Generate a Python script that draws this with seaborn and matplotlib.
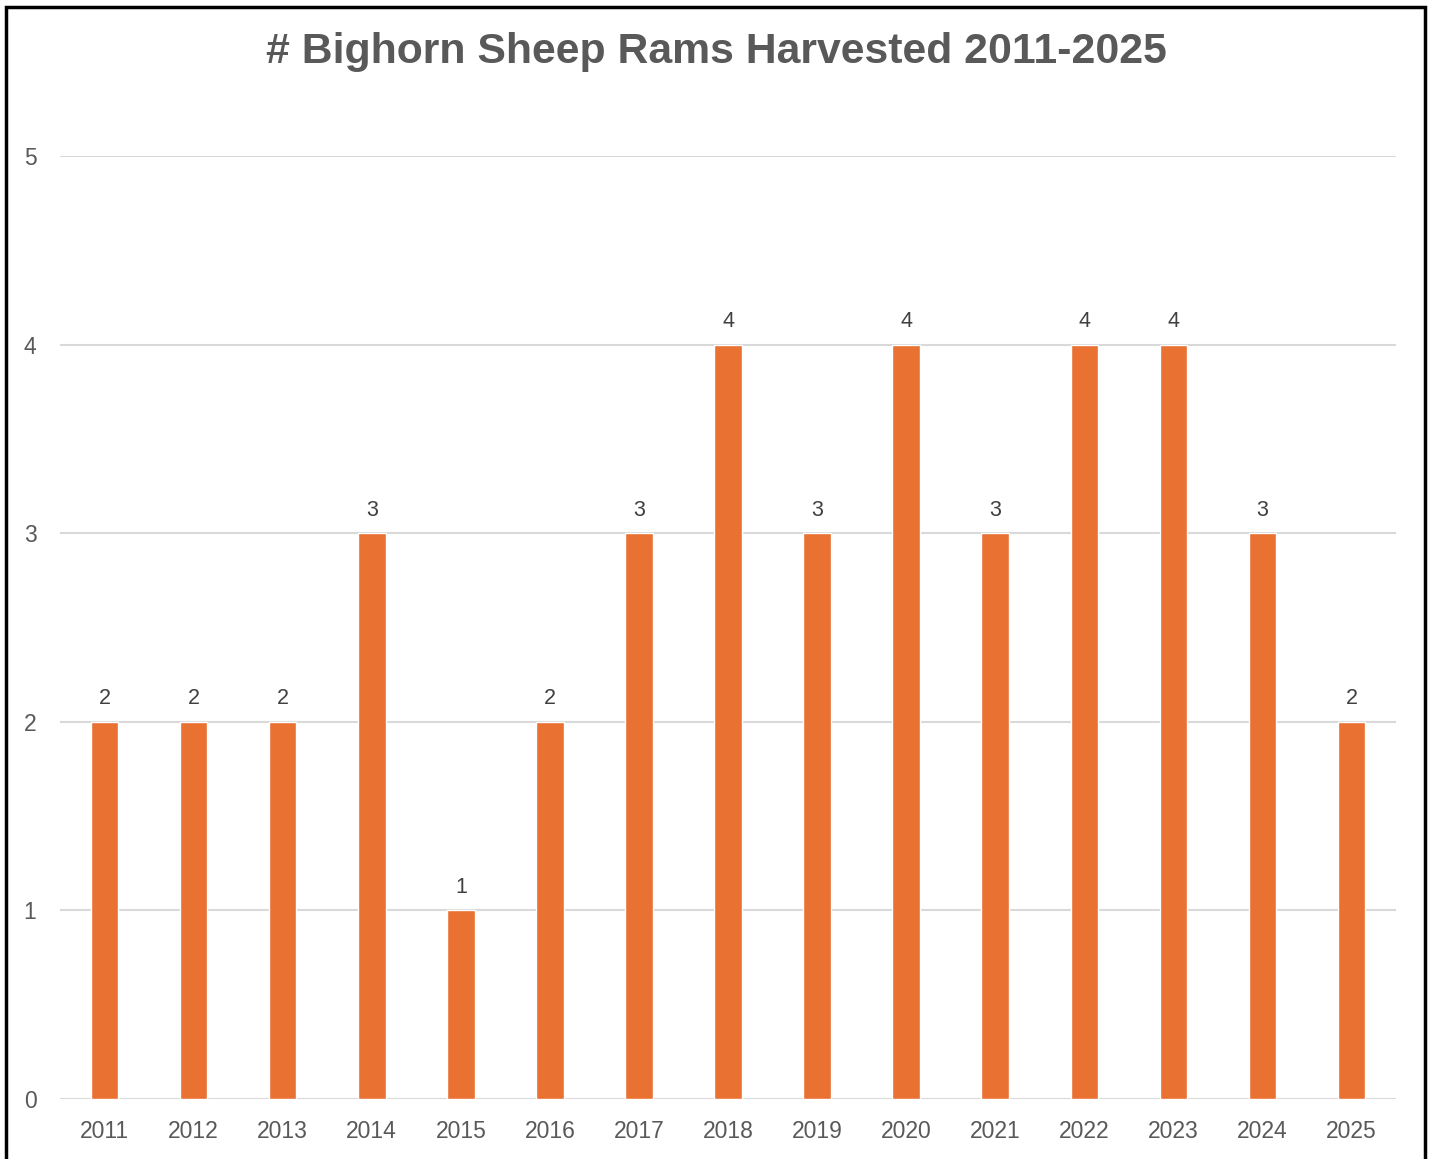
import pandas as pd
import seaborn as sns
import matplotlib.pyplot as plt
from matplotlib.patches import Rectangle

# Data
years = ['2011', '2012', '2013', '2014', '2015', '2016', '2017', '2018',
         '2019', '2020', '2021', '2022', '2023', '2024', '2025']
rams = [2, 2, 2, 3, 1, 2, 3, 4, 3, 4, 3, 4, 4, 3, 2]
df = pd.DataFrame({'year': years, 'rams': rams})

sns.set_style('white')
plt.rcParams['font.family'] = ['Liberation Sans', 'DejaVu Sans']

fig = plt.figure(figsize=(14.32, 11.59), dpi=100)
ax = fig.add_axes([0.0419, 0.0518, 0.9330, 0.8136])

sns.barplot(data=df, x='year', y='rams', color='#E97132', width=0.31,
            saturation=1, ax=ax, zorder=3)

ax.set_ylim(0, 5)
ax.set_xlim(-0.5, len(years) - 0.5)
ax.set_yticks(range(0, 6))
ax.yaxis.grid(True, color='#D9D9D9', linewidth=1.5, zorder=0)
ax.xaxis.grid(False)
ax.set_axisbelow(True)
sns.despine(ax=ax, left=True, bottom=True, top=True, right=True)
ax.tick_params(axis='both', length=0, labelsize=16.5, labelcolor='#595959')
ax.tick_params(axis='y', pad=17)
ax.tick_params(axis='x', pad=15)
ax.set_xlabel('')
ax.set_ylabel('')

# Data labels above bars
for c in ax.containers:
    ax.bar_label(c, padding=9, fontsize=15.5, color='#404040')

fig.text(0.5, 0.955, '# Bighorn Sheep Rams Harvested 2011-2025',
         ha='center', va='center', fontsize=30.8, fontweight='bold', color='#595959')

# Outer frame
frame = Rectangle((6 / 1432, -0.05), 1419 / 1432, 1 + 0.05 - 6.5 / 1159,
                  transform=fig.transFigure, fill=False, edgecolor='black',
                  linewidth=2.5, clip_on=False)
fig.patches.append(frame)

fig.savefig('out.png', dpi=100)
